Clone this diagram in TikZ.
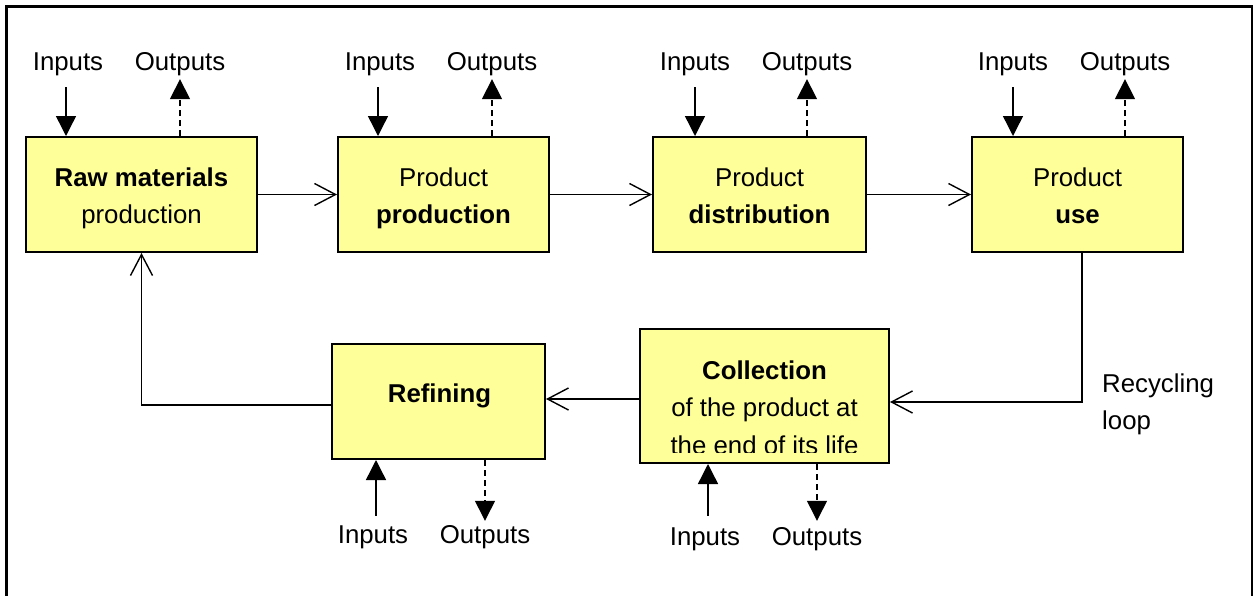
\documentclass[tikz,border=0pt]{standalone}
\usepackage{fontspec}
\setmainfont{Liberation Sans}
\usetikzlibrary{arrows.meta}
\definecolor{boxfill}{HTML}{FFFF99}

\begin{document}
\begin{tikzpicture}[x=1pt,y=-1pt,
  box/.style={draw=black, line width=2pt, fill=boxfill, inner sep=0pt},
  txt/.style={inner sep=0pt, anchor=base, font=\fontsize{25.8}{31}\selectfont},
  txtb/.style={txt, font=\fontsize{25.8}{31}\selectfont\bfseries},
  conn/.style={line width=1.4pt},
  flow/.style={conn, -{Straight Barb[length=21pt,width=22pt]}},
  inarr/.style={conn, -{Triangle[length=20pt,width=20pt]}},
  outarr/.style={conn, dash pattern=on 6pt off 4pt, -{Triangle[length=20pt,width=20pt]}},
]
\useasboundingbox (0,0) rectangle (1254,595);

% outer frame (open at the bottom)
\begin{scope}
  \clip (0,0) rectangle (1254,595);
  \draw[line width=2.2pt] (6.5,640) -- (6.5,6.5) -- (1252,6.5) -- (1252,640);
\end{scope}

% ---- life-cycle stages ----
\node[box, minimum width=231pt, minimum height=115pt] (raw)  at (141.5,194.5) {};
\node[box, minimum width=211pt, minimum height=115pt] (prod) at (443.5,194.5) {};
\node[box, minimum width=213pt, minimum height=115pt] (dist) at (759.5,194.5) {};
\node[box, minimum width=211pt, minimum height=115pt] (use)  at (1077.5,194.5) {};
\node[box, minimum width=213pt, minimum height=115pt] (ref)  at (438.5,401.5) {};
\node[box, minimum width=249pt, minimum height=134pt] (coll) at (764.5,396) {};

% stage texts
\node[txtb] (raw-a)  at (141.5,186)   {Raw materials};
\node[txt]  (raw-b)  at (141.5,223.5) {production};
\node[txt]  (prod-a) at (443.5,186)   {Product};
\node[txtb] (prod-b) at (443.5,223.5) {production};
\node[txt]  (dist-a) at (759.5,186)   {Product};
\node[txtb] (dist-b) at (759.5,223.5) {distribution};
\node[txt]  (use-a)  at (1077.5,186)  {Product};
\node[txtb] (use-b)  at (1077.5,223.5){use};
\node[txtb] (ref-a)  at (439.5,402.5) {Refining};
\node[txtb] (coll-a) at (764.5,379.3) {Collection};
\node[txt]  (coll-b) at (764.5,416.7) {of the product at};
\begin{scope}
  \clip (640,329) rectangle (889,452);
  \node[txt] (coll-c) at (764.5,454.2) {the end of its life};
\end{scope}

\node[txt, anchor=base west] (rec-a) at (1102,392)   {Recycling};
\node[txt, anchor=base west] (rec-b) at (1102,429.5) {loop};

% ---- inputs / outputs labels ----
\node[txt] (i1) at (68,70)   {Inputs};
\node[txt] (o1) at (180,70)  {Outputs};
\node[txt] (i2) at (380,70)  {Inputs};
\node[txt] (o2) at (492,70)  {Outputs};
\node[txt] (i3) at (695,70)  {Inputs};
\node[txt] (o3) at (807,70)  {Outputs};
\node[txt] (i4) at (1013,70) {Inputs};
\node[txt] (o4) at (1125,70) {Outputs};
\node[txt] (i5) at (373,543) {Inputs};
\node[txt] (o5) at (485,543) {Outputs};
\node[txt] (i6) at (705,545) {Inputs};
\node[txt] (o6) at (817,545) {Outputs};

% ---- main flow ----
\draw[flow] (raw) -- (prod);
\draw[flow] (prod) -- (dist);
\draw[flow] (dist) -- (use);
\draw[flow] ([xshift=4.5pt]use.south) |- ([yshift=-6pt]coll.east);
\draw[flow] ([yshift=-3pt]coll.west) -- ([yshift=-3pt]coll.west -| ref.east);
\draw[flow] ([yshift=-3.5pt]ref.west) -| (raw.south);

% ---- inputs (solid) and outputs (dashed), top row ----
\draw[inarr]  ([xshift=-2pt,yshift=-11.6pt]i1.south) -- ([xshift=-2pt]i1.south |- raw.north);
\draw[outarr] (o1.south |- raw.north) -- ([yshift=-3.6pt]o1.south);
\draw[inarr]  ([xshift=-2pt,yshift=-11.6pt]i2.south) -- ([xshift=-2pt]i2.south |- prod.north);
\draw[outarr] (o2.south |- prod.north) -- ([yshift=-3.6pt]o2.south);
\draw[inarr]  ([yshift=-11.6pt]i3.south) -- (i3.south |- dist.north);
\draw[outarr] (o3.south |- dist.north) -- ([yshift=-3.6pt]o3.south);
\draw[inarr]  ([yshift=-11.6pt]i4.south) -- (i4.south |- use.north);
\draw[outarr] (o4.south |- use.north) -- ([yshift=-3.6pt]o4.south);

% ---- inputs and outputs, bottom row ----
\draw[inarr]  ([xshift=3pt,yshift=9.5pt]i5.north) -- ([xshift=3pt]i5.north |- ref.south);
\draw[outarr] (o5.north |- ref.south) -- ([yshift=4pt]o5.north);
\draw[inarr]  ([xshift=3pt,yshift=11.5pt]i6.north) -- ([xshift=3pt]i6.north |- coll.south);
\draw[outarr] (o6.north |- coll.south) -- ([yshift=6pt]o6.north);
\end{tikzpicture}
\end{document}
